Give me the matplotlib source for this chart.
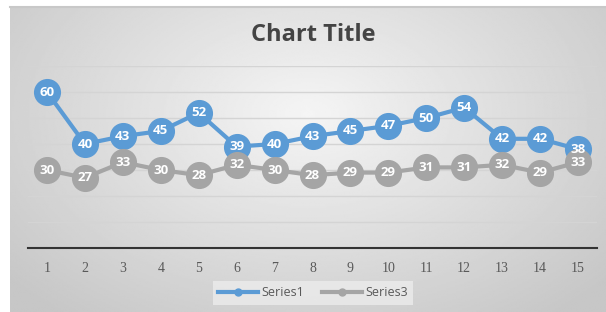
import matplotlib
matplotlib.use('Agg')
import matplotlib.pyplot as plt
from matplotlib.lines import Line2D
import numpy as np

plt.rcParams['font.family'] = ['Open Sans', 'DejaVu Sans']

categories = [str(i) for i in range(1, 16)]
series1 = [60, 40, 43, 45, 52, 39, 40, 43, 45, 47, 50, 54, 42, 42, 38]
series3 = [30, 27, 33, 30, 28, 32, 30, 28, 29, 29, 31, 31, 32, 29, 33]

blue = '#5B9BD5'
grey = '#A5A5A5'
text_col = '#595959'

fig = plt.figure(figsize=(6.06, 3.12), dpi=100)

# gradient background of the chart area
bg = fig.add_axes([10/606, 0, 596/606, 1 - 7/312])
yy, xx = np.mgrid[-1:1:200j, -1:1:400j]
r = np.sqrt((xx / 1.1) ** 2 + ((yy + 0.3) / 1.4) ** 2)
shade = 0.96 - 0.15 * np.clip(r, 0, 1.2)
bg.imshow(shade, cmap='gray', vmin=0, vmax=1, aspect='auto', extent=[0, 1, 0, 1])
bg.set_xlim(0, 1)
bg.set_ylim(0, 1)
bg.axis('off')
bg.plot([0, 1], [1, 1], color='#c8c8c8', lw=1.5, transform=bg.transAxes, clip_on=False)

ax = fig.add_axes([28/606, 1 - 248/312, 569/606, 182/312])
ax.set_facecolor('none')
x = np.arange(1, len(categories) + 1)

ax.plot(x, series1, color=blue, lw=3, marker='o', markersize=18.5, zorder=3)
ax.plot(x, series3, color=grey, lw=3, marker='o', markersize=18.5, zorder=4)
for xi, v in zip(x, series1):
    ax.text(xi, v, str(v), ha='center', va='center', color='white',
            fontsize=9.5, fontweight='bold', zorder=6)
for xi, v in zip(x, series3):
    ax.text(xi, v, str(v), ha='center', va='center', color='white',
            fontsize=9.5, fontweight='bold', zorder=6)

ax.set_xlim(0.5, 15.5)
ax.set_ylim(0, 70)
ax.set_yticks(np.arange(0, 71, 10))
ax.yaxis.grid(True, color='#d4d4d4', lw=1)
ax.set_axisbelow(True)
ax.tick_params(axis='y', left=False, labelleft=False)
ax.tick_params(axis='x', length=0, labelsize=10, colors=text_col, pad=10)
ax.set_xticks(x)
ax.set_xticklabels(categories, family=['Liberation Serif', 'DejaVu Serif'])
for s in ['top', 'right', 'left']:
    ax.spines[s].set_visible(False)
ax.spines['bottom'].set_color('#333333')
ax.spines['bottom'].set_linewidth(1.5)

fig.text(313/606, 1 - 35/312, 'Chart Title', ha='center', va='center',
         fontsize=17, fontweight='bold', color='#444444')

handles = [Line2D([], [], color=blue, lw=3, marker='o', markersize=5),
           Line2D([], [], color=grey, lw=3, marker='o', markersize=5)]
leg = fig.legend(handles, ['Series1', 'Series3'], loc='center',
                 bbox_to_anchor=(313/606, 1 - 293/312), ncol=2, frameon=True,
                 fontsize=9, handlelength=3.2, columnspacing=1.5, handletextpad=0.2,
                 borderpad=0.45, fancybox=False)
leg.get_frame().set_facecolor('#ececec')
leg.get_frame().set_edgecolor('none')
for t in leg.get_texts():
    t.set_color(text_col)

plt.savefig('out.png', dpi=100)
